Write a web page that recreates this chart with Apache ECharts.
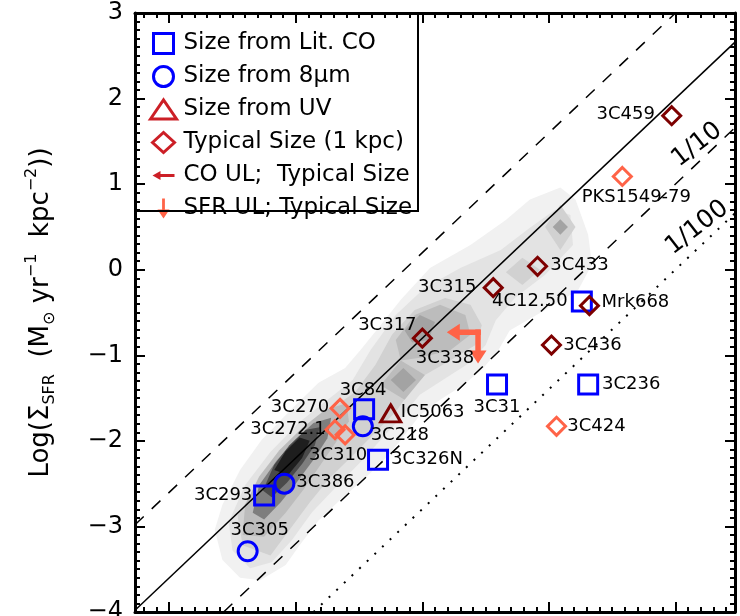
<!DOCTYPE html>
<html>
<head>
<meta charset="utf-8">
<script src="https://cdn.jsdelivr.net/npm/echarts@6/dist/echarts.min.js"></script>
<style>
  html, body { margin: 0; padding: 0; background: #fff; }
  #chart { width: 740px; height: 616px; }
</style>
</head>
<body>
<div id="chart"></div>
<script>
// ---- Axis ranges (log gas surface density vs log SFR surface density) ----
const xRange = [-0.27, 4.47];
const yRange = [-4, 3];
const yTickStep = 1;

// ---- Galaxies: [name, log Sigma_H2, log Sigma_SFR] ----
const sizeLitCO = [
  ['4C12.50', 3.26, -0.37],
  ['3C31', 2.59, -1.34],
  ['3C236', 3.31, -1.34],
  ['3C84', 1.54, -1.63],
  ['3C326N', 1.65, -2.22],
  ['3C293', 0.75, -2.64]
];
const size8um = [
  ['3C218', 1.53, -1.83],
  ['3C386', 0.91, -2.50],
  ['3C305', 0.62, -3.29]
];
const sizeUV = [
  ['IC5063', 1.75, -1.68]
];
const typicalSize = [
  ['3C459', 3.97, 1.80],
  ['3C433', 2.91, 0.04],
  ['3C315', 2.56, -0.21],
  ['Mrk668', 3.32, -0.42],
  ['3C317', 2.00, -0.80],
  ['3C436', 3.02, -0.88]
];
const sfrUpperLimit = [
  ['PKS1549-79', 3.58, 1.09],
  ['3C270', 1.35, -1.62],
  ['3C272.1', 1.31, -1.87],
  ['3C310', 1.39, -1.93],
  ['3C424', 3.06, -1.83]
];
const coAndSfrUpperLimit = [
  ['3C338', 2.44, -0.73]
];

// ---- Kennicutt-Schmidt relation and its scaled versions (end points) ----
const ksRelation = [[-0.27, -3.98], [4.47, 2.66]];
const ksTimes10 = [[-0.27, -2.98], [4.00, 3.00]];
const ksTenth = [[0.43, -4.00], [4.47, 1.66]];
const ksHundredth = [[1.14, -4.00], [4.47, 0.66]];
const relationTags = [['1/10', 4.17, 1.46], ['1/100', 4.17, 0.49]];

// ---- Density contours of the comparison sample (vertices in data units) ----
const contourOuter = [[0.42,-3.39],[0.36,-3.04],[0.42,-2.75],[0.56,-2.34],[0.73,-1.99],[0.96,-1.64],[1.18,-1.32],[1.39,-1.15],[1.51,-0.94],[1.67,-0.65],[1.83,-0.35],[2.06,0.02],[2.38,0.29],[2.66,0.58],[2.85,0.82],[3.09,0.96],[3.21,0.82],[3.31,0.41],[3.34,0.06],[3.23,-0.24],[2.97,-0.47],[2.69,-0.71],[2.60,-0.94],[2.47,-1.17],[2.32,-1.35],[2.14,-1.52],[1.98,-1.70],[1.83,-1.99],[1.71,-2.20],[1.55,-2.43],[1.35,-2.69],[1.18,-2.93],[1.03,-3.22],[0.92,-3.45],[0.72,-3.63],[0.56,-3.60]];
const contourSecond = [[0.50,-3.28],[0.47,-2.95],[0.60,-2.52],[0.80,-2.13],[1.03,-1.78],[1.27,-1.50],[1.45,-1.29],[1.59,-0.94],[1.79,-0.53],[2.02,-0.21],[2.30,0.02],[2.62,0.23],[2.85,0.49],[3.05,0.70],[3.17,0.64],[3.19,0.29],[2.97,-0.06],[2.73,-0.33],[2.58,-0.59],[2.50,-0.88],[2.38,-1.08],[2.18,-1.27],[1.98,-1.46],[1.83,-1.73],[1.67,-1.99],[1.51,-2.25],[1.31,-2.55],[1.13,-2.83],[0.97,-3.16],[0.81,-3.42],[0.64,-3.49]];
const contourThird = [[0.58,-3.22],[0.54,-2.87],[0.68,-2.55],[0.88,-2.20],[1.07,-1.90],[1.27,-1.64],[1.47,-1.43],[1.63,-1.11],[1.76,-0.76],[1.94,-0.47],[2.18,-0.33],[2.38,-0.41],[2.47,-0.65],[2.42,-0.88],[2.22,-1.06],[2.02,-1.23],[1.90,-1.43],[1.79,-1.66],[1.63,-1.90],[1.45,-2.17],[1.27,-2.43],[1.11,-2.72],[0.96,-3.02],[0.80,-3.34]];
const knot433 = [[2.66,-0.03],[2.79,0.14],[2.93,0.00],[2.79,-0.18]];
const knotUpperOuter = [[2.97,0.50],[3.09,0.76],[3.21,0.50],[3.09,0.23]];
const knotUpperInner = [[3.03,0.50],[3.09,0.59],[3.15,0.50],[3.09,0.41]];
const knot317Outer = [[1.79,-0.82],[1.94,-0.53],[2.14,-0.41],[2.34,-0.53],[2.38,-0.76],[2.22,-0.94],[1.98,-1.03],[1.83,-1.06]];
const knot317Inner = [[1.86,-0.71],[1.98,-0.53],[2.10,-0.61],[2.05,-0.82],[1.92,-0.85]];
const knotMidOuter = [[1.67,-1.35],[1.83,-1.06],[2.02,-1.23],[1.86,-1.52]];
const knotMidInner = [[1.75,-1.29],[1.85,-1.15],[1.95,-1.29],[1.85,-1.43]];
const coreFourth = [[0.58,-3.10],[0.60,-2.75],[0.71,-2.42],[0.87,-2.11],[1.05,-1.85],[1.23,-1.64],[1.40,-1.56],[1.42,-1.77],[1.32,-2.01],[1.20,-2.27],[1.06,-2.57],[0.92,-2.84],[0.75,-3.12]];
const coreFifth = [[0.66,-2.84],[0.71,-2.52],[0.85,-2.23],[1.00,-1.98],[1.14,-1.79],[1.28,-1.73],[1.25,-1.97],[1.14,-2.22],[1.01,-2.48],[0.88,-2.72],[0.75,-2.92]];
const coreSixth = [[0.74,-2.58],[0.83,-2.28],[0.95,-2.05],[1.08,-1.87],[1.19,-1.84],[1.15,-2.05],[1.05,-2.27],[0.93,-2.49],[0.81,-2.66]];
const corePeak = [[0.83,-2.34],[0.92,-2.12],[1.03,-1.96],[1.11,-2.00],[1.05,-2.20],[0.94,-2.40]];

// Contour level of each polygon, drawn in this order
const densityContours = [
  [1, contourOuter], [2, contourSecond], [3, contourThird],
  [3, knot433], [3, knotUpperOuter], [5, knotUpperInner],
  [4, knot317Outer], [5, knot317Inner], [4, knotMidOuter], [5, knotMidInner],
  [4, coreFourth], [6, coreFifth], [7, coreSixth], [8, corePeak]
];
const levelFill = { 1: '#f1f1f1', 2: '#e3e3e3', 3: '#d1d1d1', 4: '#bcbcbc', 5: '#a3a3a3', 6: '#7e7e7e', 7: '#4a4a4a', 8: '#1e1e1e' };

// ---- Name label placement: offset of label centre from the marker (px) ----
const labelOffsets = {
  '3C459': [-46, -1], 'PKS1549-79': [14, 21], '3C433': [42, -1], '3C315': [-46, 0],
  '4C12.50': [-52, 0], 'Mrk668': [46, -3], '3C317': [-35, -13], '3C338': [-33, 26],
  '3C31': [0, 23], '3C436': [41, 0], '3C236': [43, 0], '3C424': [40, 0],
  '3C270': [-40, -1], '3C84': [-1, -19], '3C218': [37, 9], 'IC5063': [42, -1],
  '3C272.1': [-47, 0], '3C310': [-7, 20], '3C326N': [49, 0], '3C386': [41, -1],
  '3C293': [-41, 0], '3C305': [12, -21]
};

// ---- Styles ----
const FONT = 'DejaVu Sans';
const BLUE = '#0000ff';
const MAROON = '#7d0000';
const SALMON = '#ff6347';
const LEGEND_RED = '#cc1f26';

const leftArrow = 'path://M0,0M34,18M0,9L13,0.5L13,6.25L34,6.25L34,11.75L13,11.75L13,17.5Z';
const downArrow = 'path://M0,0M18,34M6.25,0L11.75,0L11.75,21L17.5,21L9,34L0.5,21L6.25,21Z';
const leftArrowOffset = [-14.25, 0];
const downArrowOffset = [0, 14.25];

const iconSquare = 'path://M0,0M30,20M5,0L25,0L25,20L5,20Z';
const iconTriangle = 'path://M0,0M30,20M2,19.5L15,0.5L28,19.5Z';
const iconDiamond = 'path://M0,0M30,20M4,10L15,0L26,10L15,20Z';
const iconLeftArrow = 'path://M0,0M30,20M4,10L12,5.5L12,8.6L26,8.6L26,11.4L12,11.4L12,14.5Z';
const iconDownArrow = 'path://M0,0M30,20M13.6,0L16.4,0L16.4,11L21,11L15,20L9,11L13.6,11Z';

const nameLabel = {
  show: true, position: 'inside', formatter: '{b}', color: '#000', opacity: 1,
  fontFamily: FONT, fontSize: 18, textBorderWidth: 0
};

function toPoints(rows) {
  return rows.map(([name, x, y]) => ({ name, value: [x, y], label: { offset: labelOffsets[name] } }));
}

function hollowSeries(name, rows, symbol, size, color) {
  return {
    name, type: 'scatter', xAxisIndex: 0, yAxisIndex: 0, z: 5,
    symbol, symbolSize: size,
    itemStyle: { color: 'rgba(0,0,0,0)', borderColor: color, borderWidth: 3, opacity: 1 },
    label: nameLabel, emphasis: { disabled: true }, silent: true,
    data: toPoints(rows)
  };
}

function lineSeries(points, type, width) {
  return {
    type: 'line', xAxisIndex: 0, yAxisIndex: 0, z: 3, silent: true,
    symbol: 'none', showSymbol: false, data: points,
    lineStyle: { color: '#000', width, type, cap: 'butt', opacity: 1 },
    emphasis: { disabled: true }
  };
}

const sfrULData = toPoints(sfrUpperLimit).concat(coAndSfrUpperLimit.map(([name, x, y]) => ({
  name, value: [x, y], symbol: downArrow, symbolSize: [18, 34], symbolOffset: downArrowOffset,
  itemStyle: { color: SALMON, borderWidth: 0, opacity: 1 }, label: { show: false }
})));

const coULData = coAndSfrUpperLimit.map(([name, x, y]) => ({
  name, value: [x, y],
  label: { offset: [labelOffsets[name][0] - leftArrowOffset[0], labelOffsets[name][1] - leftArrowOffset[1]] }
}));

function xAxisDef(position, step, tickLength, showLine) {
  return {
    type: 'value', position, min: xRange[0], max: xRange[1],
    minInterval: step, maxInterval: step,
    axisLine: { show: showLine, onZero: false, lineStyle: { color: '#000', width: 3 } },
    axisTick: { show: true, inside: true, length: tickLength, lineStyle: { color: '#000', width: 2 } },
    axisLabel: { show: false }, splitLine: { show: false }, axisPointer: { show: false }
  };
}

function yAxisDef(position, withLabels) {
  const def = {
    type: 'value', position, min: yRange[0], max: yRange[1], interval: yTickStep,
    axisLine: { show: true, onZero: false, lineStyle: { color: '#000', width: 3 } },
    axisTick: { show: true, inside: true, length: 10, lineStyle: { color: '#000', width: 2 } },
    minorTick: { show: true, splitNumber: 10, length: 5, lineStyle: { color: '#000', width: 2 } },
    splitLine: { show: false }, minorSplitLine: { show: false },
    axisLabel: withLabels ? {
      show: true, margin: 12, color: '#000', fontFamily: FONT, fontSize: 24,
      showMinLabel: true, showMaxLabel: true,
      formatter: v => (v < 0 ? '\u2212' + Math.abs(v) : String(v))
    } : { show: false }
  };
  if (withLabels) {
    def.name = '{m|Log(Σ}{s|SFR}{m|  (M}{s|⊙}{m| yr}{p|−1}{m|  kpc}{p|−2}{m|))}';
    def.nameLocation = 'middle';
    def.nameRotate = 90;
    def.nameGap = 77;
    def.nameTextStyle = {
      color: '#000', fontFamily: FONT,
      rich: {
        m: { fontSize: 26, lineHeight: 34, verticalAlign: 'middle', fontFamily: FONT, color: '#000' },
        s: { fontSize: 16, lineHeight: 16, verticalAlign: 'bottom', fontFamily: FONT, color: '#000' },
        p: { fontSize: 16, lineHeight: 16, verticalAlign: 'top', fontFamily: FONT, color: '#000' }
      }
    };
  }
  return def;
}

const chart = echarts.init(document.getElementById('chart'), null, { renderer: 'canvas' });

chart.setOption({
  animation: false,
  backgroundColor: '#fff',
  textStyle: { fontFamily: FONT },
  grid: { left: 135, right: 5, top: 13, bottom: 4, containLabel: false, outerBoundsMode: 'none' },
  xAxis: [
    xAxisDef('bottom', 1, 10, true),
    xAxisDef('bottom', 0.1, 5, false),
    xAxisDef('top', 1, 10, true),
    xAxisDef('top', 0.1, 5, false)
  ],
  yAxis: [yAxisDef('left', true), yAxisDef('right', false)],
  legend: {
    orient: 'vertical', left: 147, top: 32, padding: 0,
    itemWidth: 30, itemHeight: 20, itemGap: 10, selectedMode: false,
    textStyle: { color: '#000', fontFamily: FONT, fontSize: 23, lineHeight: 20 },
    data: [
      { name: 'Size from Lit. CO', icon: iconSquare, itemStyle: { color: 'rgba(0,0,0,0)', borderColor: BLUE, borderWidth: 3, opacity: 1 } },
      { name: 'Size from 8μm', icon: 'circle', itemStyle: { color: 'rgba(0,0,0,0)', borderColor: BLUE, borderWidth: 3, opacity: 1 } },
      { name: 'Size from UV', icon: iconTriangle, itemStyle: { color: 'rgba(0,0,0,0)', borderColor: LEGEND_RED, borderWidth: 3, opacity: 1 } },
      { name: 'Typical Size (1 kpc)', icon: iconDiamond, itemStyle: { color: 'rgba(0,0,0,0)', borderColor: LEGEND_RED, borderWidth: 3, opacity: 1 } },
      { name: 'CO UL;  Typical Size', icon: iconLeftArrow, itemStyle: { color: LEGEND_RED, borderWidth: 0, opacity: 1 } },
      { name: 'SFR UL; Typical Size', icon: iconDownArrow, itemStyle: { color: SALMON, borderWidth: 0, opacity: 1 } }
    ]
  },
  graphic: [{
    type: 'rect', z: 10, silent: true,
    shape: { x: 135, y: 13, width: 283, height: 198 },
    style: { fill: 'none', stroke: '#000', lineWidth: 2 }
  }],
  series: [
    {
      type: 'custom', coordinateSystem: 'cartesian2d', xAxisIndex: 0, yAxisIndex: 0,
      z: 1, silent: true, clip: true,
      data: densityContours.map(([level, pts], i) => [pts[0][0], pts[0][1], level, i]),
      renderItem: (params, api) => {
        const [level, pts] = densityContours[params.dataIndex];
        return {
          type: 'polygon',
          shape: { points: pts.map(p => api.coord(p)) },
          style: { fill: levelFill[level], stroke: null, opacity: 1 }
        };
      }
    },
    lineSeries(ksRelation, 'solid', 1.5),
    lineSeries(ksTimes10, [12, 11], 1.5),
    lineSeries(ksTenth, [12, 11], 1.5),
    lineSeries(ksHundredth, [2, 8.5], 2),
    {
      type: 'scatter', xAxisIndex: 0, yAxisIndex: 0, z: 4, silent: true,
      symbolSize: 1, itemStyle: { color: 'rgba(0,0,0,0)', opacity: 1 },
      label: { show: true, position: 'inside', formatter: '{b}', rotate: 38, color: '#000', fontFamily: FONT, fontSize: 25, textBorderWidth: 0 },
      data: relationTags.map(([name, x, y]) => ({ name, value: [x, y] }))
    },
    hollowSeries('Size from Lit. CO', sizeLitCO, 'rect', 19, BLUE),
    hollowSeries('Size from 8μm', size8um, 'circle', 19, BLUE),
    hollowSeries('Size from UV', sizeUV, 'triangle', [20, 17], MAROON),
    hollowSeries('Typical Size (1 kpc)', typicalSize, 'diamond', 18, MAROON),
    Object.assign(hollowSeries('SFR UL; Typical Size', [], 'diamond', 18, SALMON), { data: sfrULData }),
    {
      name: 'CO UL;  Typical Size', type: 'scatter', xAxisIndex: 0, yAxisIndex: 0, z: 5, silent: true,
      symbol: leftArrow, symbolSize: [34, 18], symbolOffset: leftArrowOffset,
      itemStyle: { color: SALMON, borderWidth: 0, opacity: 1 },
      label: nameLabel, emphasis: { disabled: true },
      data: coULData
    }
  ]
});
</script>
</body>
</html>
